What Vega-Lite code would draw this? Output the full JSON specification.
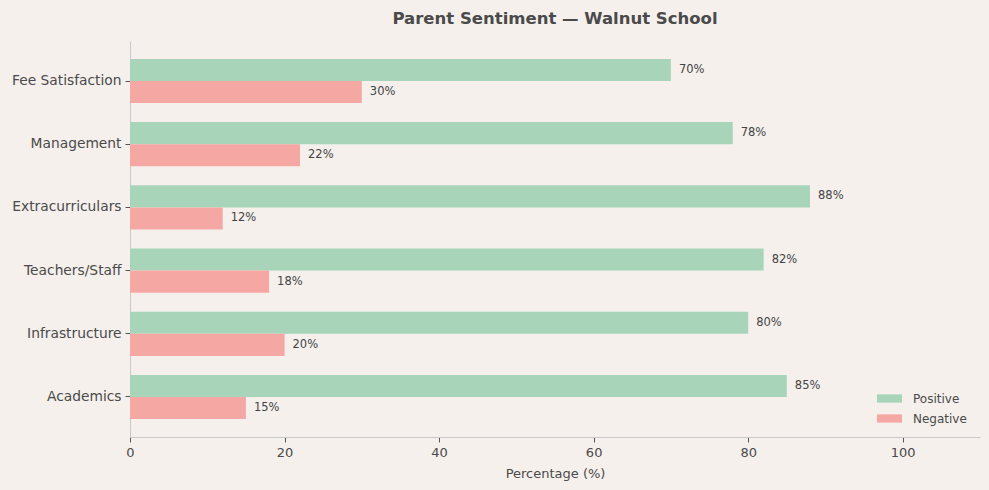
{
  "$schema": "https://vega.github.io/schema/vega-lite/v6.json",
  "autosize": "none",
  "width": 850,
  "height": 396,
  "padding": {"left": 130, "top": 41, "right": 9, "bottom": 53},
  "background": "#f5f0ec",
  "config": {
    "font": "DejaVu Sans",
    "view": {"stroke": null},
    "axis": {
      "domainColor": "#c8c8c8",
      "tickColor": "#555555",
      "labelColor": "#4a4a4a",
      "titleColor": "#4a4a4a",
      "grid": false
    }
  },
  "title": {
    "text": "Parent Sentiment — Walnut School",
    "fontSize": 16.5,
    "fontWeight": "bold",
    "color": "#4a4a4a",
    "anchor": "middle",
    "offset": 14
  },
  "data": {
    "values": [
      {"category": "Fee Satisfaction", "sentiment": "Positive", "value": 70},
      {"category": "Fee Satisfaction", "sentiment": "Negative", "value": 30},
      {"category": "Management", "sentiment": "Positive", "value": 78},
      {"category": "Management", "sentiment": "Negative", "value": 22},
      {"category": "Extracurriculars", "sentiment": "Positive", "value": 88},
      {"category": "Extracurriculars", "sentiment": "Negative", "value": 12},
      {"category": "Teachers/Staff", "sentiment": "Positive", "value": 82},
      {"category": "Teachers/Staff", "sentiment": "Negative", "value": 18},
      {"category": "Infrastructure", "sentiment": "Positive", "value": 80},
      {"category": "Infrastructure", "sentiment": "Negative", "value": 20},
      {"category": "Academics", "sentiment": "Positive", "value": 85},
      {"category": "Academics", "sentiment": "Negative", "value": 15}
    ]
  },
  "encoding": {
    "y": {
      "field": "category",
      "type": "nominal",
      "sort": ["Fee Satisfaction", "Management", "Extracurriculars", "Teachers/Staff", "Infrastructure", "Academics"],
      "scale": {"paddingInner": 0.3, "paddingOuter": 0.283},
      "axis": {"title": null, "labelFontSize": 13.8, "tickSize": 5, "labelPadding": 4}
    },
    "yOffset": {
      "field": "sentiment",
      "type": "nominal",
      "sort": ["Positive", "Negative"],
      "scale": {"paddingInner": 0, "paddingOuter": 0}
    },
    "x": {
      "field": "value",
      "type": "quantitative",
      "scale": {"domain": [0, 110], "nice": false},
      "axis": {
        "title": "Percentage (%)",
        "titleFontSize": 13,
        "titleFontWeight": "normal",
        "titlePadding": 8,
        "labelFontSize": 13,
        "labelFlush": false,
        "values": [0, 20, 40, 60, 80, 100],
        "tickSize": 5,
        "labelPadding": 4
      }
    }
  },
  "layer": [
    {
      "mark": {"type": "bar"},
      "encoding": {
        "color": {
          "field": "sentiment",
          "type": "nominal",
          "sort": ["Positive", "Negative"],
          "scale": {"domain": ["Positive", "Negative"], "range": ["#a8d5ba", "#f5a7a4"]},
          "legend": {
            "title": null,
            "orient": "none",
            "legendX": 747,
            "legendY": 345,
            "symbolType": "M-1,-0.33H1V0.33H-1Z",
            "symbolSize": 625,
            "symbolStrokeWidth": 0,
            "labelFontSize": 12,
            "labelColor": "#4a4a4a",
            "labelOffset": 11,
            "rowPadding": 1
          }
        }
      }
    },
    {
      "mark": {
        "type": "text",
        "align": "left",
        "dx": 8,
        "fontSize": 11.5,
        "color": "#444444",
        "text": {"expr": "datum.value + '%'"}
      },
      "encoding": {
        "detail": {"field": "sentiment"}
      }
    }
  ]
}
